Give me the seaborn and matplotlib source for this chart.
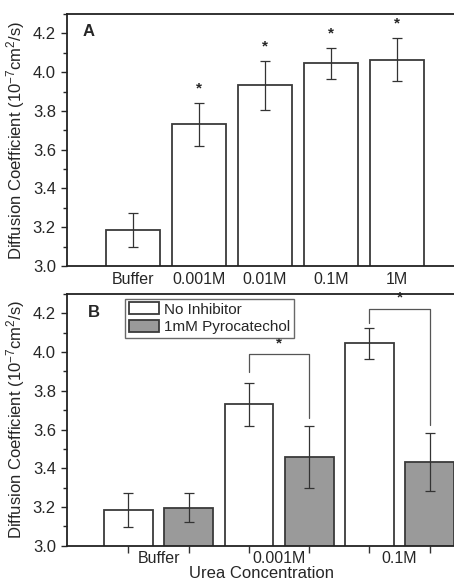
import matplotlib
matplotlib.use("Agg")
import matplotlib.pyplot as plt
from matplotlib.ticker import AutoMinorLocator, FixedLocator
import seaborn as sns
import pandas as pd
import numpy as np

sns.set_style("ticks")
plt.rcParams['font.family'] = ['Liberation Sans', 'DejaVu Sans']
plt.rcParams['mathtext.fontset'] = 'custom'
plt.rcParams['mathtext.rm'] = 'Liberation Sans'
plt.rcParams['mathtext.it'] = 'Liberation Sans:italic'

# Panel A data
conc_a = ['Buffer', '0.001M', '0.01M', '0.1M', '1M']
mean_a = [3.185, 3.73, 3.932, 4.045, 4.065]
err_a = [0.086, 0.11, 0.128, 0.08, 0.11]

# Panel B data
conc_b = ['Buffer', '0.001M', '0.1M']
groups_b = ['No Inhibitor', '1mM Pyrocatechol']
mean_none = [3.185, 3.73, 4.045]
err_none = [0.086, 0.11, 0.08]
mean_pyro = [3.197, 3.46, 3.43]
err_pyro = [0.073, 0.16, 0.15]

EDGE = '#3a3a3a'
GREY = '#9a9a9a'
FS = 11.5

fig = plt.figure(figsize=(4.54, 5.82), dpi=100)
ax_a = fig.add_axes([67/454, 1 - 266/582, 396/454, 252/582])
ax_b = fig.add_axes([67/454, 1 - 545.7/582, 423/454, 251.7/582])

# ---- Panel A
df_a = pd.DataFrame({'conc': conc_a, 'D': mean_a})
sns.barplot(data=df_a, x='conc', y='D', color='white', edgecolor=EDGE,
            linewidth=1.3, width=0.82, errorbar=None, ax=ax_a)
bars = ax_a.containers[0]
xs = [p.get_x() + p.get_width() / 2 for p in bars]
ax_a.errorbar(xs, mean_a, yerr=err_a, fmt='none', ecolor='#333333',
              elinewidth=0.9, capsize=3.5, capthick=0.9)
for i, (x, m, e) in enumerate(zip(xs, mean_a, err_a)):
    if i > 0:
        ax_a.text(x, m + e + 0.075, '*', ha='center', va='center',
                  fontsize=11, fontweight='bold')
ax_a.set_xlim(-1.0, 5.0)
ax_a.set_ylim(3.0, 4.3)
ax_a.tick_params(axis='x', length=0, labelsize=FS, pad=4)
ax_a.set_xlabel('')
ax_a.text(0.04, 0.93, 'A', transform=ax_a.transAxes, fontsize=12,
          fontweight='bold', va='center')

# ---- Panel B
df_b = pd.DataFrame({
    'conc': conc_b * 2,
    'group': [groups_b[0]] * 3 + [groups_b[1]] * 3,
    'D': mean_none + mean_pyro,
})
sns.barplot(data=df_b, x='conc', y='D', hue='group', hue_order=groups_b,
            palette={groups_b[0]: 'white', groups_b[1]: GREY},
            edgecolor=EDGE, linewidth=1.3, width=1.0, gap=0.19,
            errorbar=None, ax=ax_b)
bar_x = []
for cont, means, errs in zip(ax_b.containers, [mean_none, mean_pyro],
                             [err_none, err_pyro]):
    xb = [p.get_x() + p.get_width() / 2 for p in cont]
    bar_x.append(xb)
    ax_b.errorbar(xb, means, yerr=errs, fmt='none', ecolor='#333333',
                  elinewidth=0.9, capsize=3.5, capthick=0.9)

# significance brackets
brackets = [(1, 3.895, 3.66, 3.99), (2, 4.15, 3.625, 4.225)]
for gi, yl, yr, yt in brackets:
    x0, x1 = bar_x[0][gi], bar_x[1][gi]
    ax_b.plot([x0, x0, x1, x1], [yl, yt, yt, yr], color='#555555', lw=0.9)
    ax_b.text((x0 + x1) / 2, yt + 0.055, '*', ha='center', va='center',
              fontsize=11, fontweight='bold')

ax_b.set_xlim(-0.76, 2.75)
ax_b.set_ylim(3.0, 4.3)
ax_b.xaxis.set_minor_locator(FixedLocator(sorted(bar_x[0] + bar_x[1])))
ax_b.tick_params(axis='x', which='major', length=0, labelsize=FS, pad=4)
ax_b.tick_params(axis='x', which='minor', length=5, width=1, direction='out',
                 color='#333333')
ax_b.set_xlabel('Urea Concentration', fontsize=FS + 0.5)
ax_b.xaxis.set_label_coords(0.459, -0.08)
ax_b.text(0.05, 0.925, 'B', transform=ax_b.transAxes, fontsize=12,
          fontweight='bold', va='center')
leg = ax_b.legend(loc='upper left', bbox_to_anchor=(0.137, 0.982),
                  fontsize=11, frameon=True, fancybox=False, handlelength=2.0,
                  handleheight=0.8, handletextpad=0.3, borderpad=0.25,
                  labelspacing=0.25, borderaxespad=0)
leg.get_frame().set_edgecolor('#444444')
leg.get_frame().set_linewidth(1.0)

for ax in (ax_a, ax_b):
    ax.set_ylabel('Diffusion Coefficient (10$^{-7}$cm$^{2}$/s)', fontsize=FS + 0.5,
                  labelpad=4)
    ax.set_yticks(np.arange(3.0, 4.25, 0.2))
    ax.yaxis.set_minor_locator(AutoMinorLocator(2))
    ax.tick_params(axis='y', which='major', length=4.5, width=1,
                   direction='out', labelsize=FS + 0.5)
    ax.tick_params(axis='y', which='minor', length=3, width=1, direction='out')
    for s in ax.spines.values():
        s.set_visible(True)
        s.set_linewidth(1.3)
        s.set_color('#222222')

fig.savefig('out.png', dpi=100)
